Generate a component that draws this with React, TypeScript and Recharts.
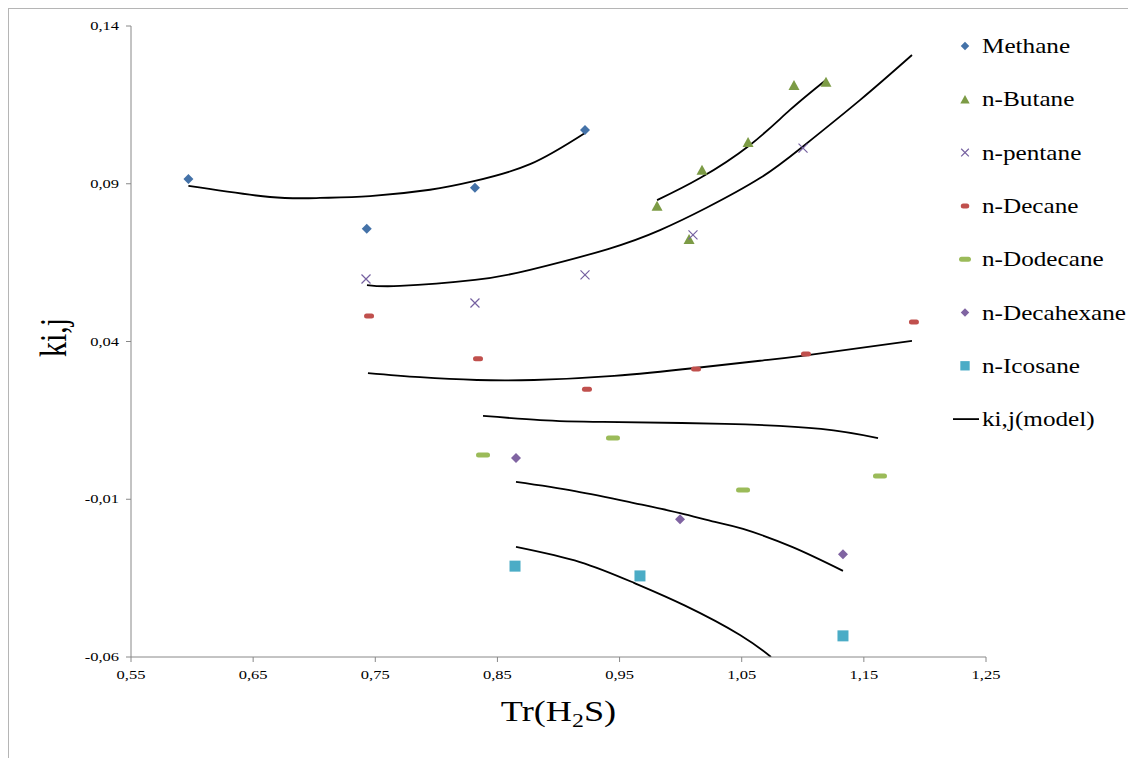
import React from "react";
import { ComposedChart, Line, Scatter, XAxis, YAxis } from "recharts";

// measured points (Tr, kij)
const methane = [
  { x: 0.597, y: 0.0915 },
  { x: 0.743, y: 0.0757 },
  { x: 0.8316, y: 0.0887 },
  { x: 0.9217, y: 0.107 },
];
const butane = [
  { x: 0.9807, y: 0.083 },
  { x: 1.0069, y: 0.0725 },
  { x: 1.0175, y: 0.0944 },
  { x: 1.0552, y: 0.1032 },
  { x: 1.0928, y: 0.1213 },
  { x: 1.119, y: 0.1223 },
];
const pentane = [
  { x: 0.7424, y: 0.0598 },
  { x: 0.8316, y: 0.0522 },
  { x: 0.9217, y: 0.0611 },
  { x: 1.0101, y: 0.0738 },
  { x: 1.1002, y: 0.1013 },
];
const decane = [
  { x: 0.7449, y: 0.0481 },
  { x: 0.8341, y: 0.0345 },
  { x: 0.9233, y: 0.0249 },
  { x: 1.0126, y: 0.0313 },
  { x: 1.1026, y: 0.036 },
  { x: 1.191, y: 0.0462 },
];
const dodecane = [
  { x: 0.8382, y: 0.004 },
  { x: 0.9446, y: 0.0094 },
  { x: 1.0511, y: -0.0071 },
  { x: 1.1632, y: -0.0026 },
];
const decahexane = [
  { x: 0.8652, y: 0.0031 },
  { x: 0.9995, y: -0.0163 },
  { x: 1.1329, y: -0.0274 },
];
const icosane = [
  { x: 0.8644, y: -0.0312 },
  { x: 0.9667, y: -0.0343 },
  { x: 1.1329, y: -0.0533 },
];

// model curves
const methaneModel = [
  { x: 0.597, y: 0.0893 },
  { x: 0.6638, y: 0.0858 },
  { x: 0.7047, y: 0.0855 },
  { x: 0.7457, y: 0.0861 },
  { x: 0.7948, y: 0.0881 },
  { x: 0.8316, y: 0.0909 },
  { x: 0.8767, y: 0.0962 },
  { x: 0.9217, y: 0.1061 },
];
const butaneModel = [
  { x: 0.9807, y: 0.0848 },
  { x: 1.0159, y: 0.0918 },
  { x: 1.0568, y: 0.1023 },
  { x: 1.0895, y: 0.1134 },
  { x: 1.119, y: 0.1229 },
];
const pentaneModel = [
  { x: 0.7432, y: 0.0579 },
  { x: 0.7702, y: 0.0576 },
  { x: 0.8316, y: 0.0595 },
  { x: 0.8767, y: 0.0627 },
  { x: 0.9405, y: 0.0693 },
  { x: 0.9831, y: 0.0753 },
  { x: 1.0208, y: 0.0823 },
  { x: 1.065, y: 0.0918 },
  { x: 1.0994, y: 0.1016 },
  { x: 1.1468, y: 0.1165 },
  { x: 1.1894, y: 0.1308 },
];
const decaneModel = [
  { x: 0.744, y: 0.03 },
  { x: 0.7866, y: 0.0287 },
  { x: 0.8333, y: 0.0278 },
  { x: 0.88, y: 0.0278 },
  { x: 0.9455, y: 0.0291 },
  { x: 1.0118, y: 0.0316 },
  { x: 1.065, y: 0.0339 },
  { x: 1.1026, y: 0.0356 },
  { x: 1.1894, y: 0.0402 },
];
const dodecaneModel = [
  { x: 0.8382, y: 0.0164 },
  { x: 0.8849, y: 0.0151 },
  { x: 0.9364, y: 0.0145 },
  { x: 1.0363, y: 0.0139 },
  { x: 1.1149, y: 0.0123 },
  { x: 1.1616, y: 0.0094 },
];
const decahexaneModel = [
  { x: 0.8652, y: -0.0045 },
  { x: 0.9135, y: -0.0074 },
  { x: 0.9618, y: -0.0112 },
  { x: 0.9995, y: -0.0144 },
  { x: 1.0281, y: -0.0172 },
  { x: 1.0511, y: -0.0194 },
  { x: 1.0912, y: -0.0251 },
  { x: 1.1329, y: -0.0327 },
];
const icosaneModel = [
  { x: 0.8652, y: -0.0251 },
  { x: 0.9176, y: -0.0299 },
  { x: 0.9618, y: -0.0365 },
  { x: 1.0036, y: -0.0437 },
  { x: 1.0486, y: -0.053 },
  { x: 1.074, y: -0.06 },
];

const xTicks = [0.55, 0.65, 0.75, 0.85, 0.95, 1.05, 1.15, 1.25];
const yTicks = [-0.06, -0.01, 0.04, 0.09, 0.14];

const FONT = "Liberation Serif, Times New Roman, serif";
const SX = 1.27; // original figure text is stretched horizontally

type Kind = "diamond" | "triangle" | "cross" | "dash" | "longdash" | "square";

const series: { name: string; data: { x: number; y: number }[]; kind: Kind; color: string }[] = [
  { name: "Methane", data: methane, kind: "diamond", color: "#4472A8" },
  { name: "n-Butane", data: butane, kind: "triangle", color: "#7C9B45" },
  { name: "n-pentane", data: pentane, kind: "cross", color: "#7560A0" },
  { name: "n-Decane", data: decane, kind: "dash", color: "#C0504D" },
  { name: "n-Dodecane", data: dodecane, kind: "longdash", color: "#9BBB59" },
  { name: "n-Decahexane", data: decahexane, kind: "diamond", color: "#8064A2" },
  { name: "n-Icosane", data: icosane, kind: "square", color: "#4BACC6" },
];

const models = [
  methaneModel,
  butaneModel,
  pentaneModel,
  decaneModel,
  dodecaneModel,
  decahexaneModel,
  icosaneModel,
];

function marker(kind: Kind, color: string, cx: number, cy: number, s = 1) {
  switch (kind) {
    case "diamond": {
      const r = 5 * s;
      return <polygon points={`${cx},${cy - r} ${cx + r},${cy} ${cx},${cy + r} ${cx - r},${cy}`} fill={color} />;
    }
    case "triangle": {
      const w = 5.5 * s;
      const h = 10 * s;
      return (
        <polygon
          points={`${cx},${cy - h / 2} ${cx + w},${cy + h / 2} ${cx - w},${cy + h / 2}`}
          fill={color}
        />
      );
    }
    case "cross": {
      const r = 4.5 * s;
      return (
        <path
          d={`M${cx - r},${cy - r}L${cx + r},${cy + r}M${cx - r},${cy + r}L${cx + r},${cy - r}`}
          stroke={color}
          strokeWidth={1.2}
        />
      );
    }
    case "dash":
      return <rect x={cx - 5 * s} y={cy - 2.5} width={10 * s} height={5} rx={2.5} fill={color} />;
    case "longdash":
      return <rect x={cx - 7 * s} y={cy - 2.5} width={14 * s} height={5} rx={2.5} fill={color} />;
    case "square":
      return <rect x={cx - 5.5 * s} y={cy - 5.5 * s} width={11 * s} height={11 * s} fill={color} />;
  }
}

const fmt = (v: number) => v.toFixed(2).replace(".", ",");

function XTick({ x, y, payload }: any) {
  return (
    <text
      transform={`translate(${x},${y + 15}) scale(${SX},1)`}
      textAnchor="middle"
      fontFamily={FONT}
      fontSize={13}
      fill="#000"
    >
      {fmt(payload.value)}
    </text>
  );
}

function YTick({ x, y, payload }: any) {
  return (
    <text
      transform={`translate(${x - 5},${y + 4}) scale(${SX},1)`}
      textAnchor="end"
      fontFamily={FONT}
      fontSize={13}
      fill="#000"
    >
      {fmt(payload.value)}
    </text>
  );
}

function XLabel({ viewBox }: any) {
  const cx = viewBox.x + viewBox.width / 2;
  return (
    <text
      transform={`translate(${cx},${viewBox.y + 64}) scale(1.25,1)`}
      textAnchor="middle"
      fontFamily={FONT}
      fontSize={29}
      fill="#000"
    >
      Tr(H
      <tspan fontSize={19} dy={6}>
        2
      </tspan>
      <tspan dy={-6}>S)</tspan>
    </text>
  );
}

function YLabel({ viewBox }: any) {
  const cy = viewBox.y + viewBox.height / 2;
  return (
    <text
      transform={`translate(57,${cy - 4}) scale(1.25,1) rotate(-90)`}
      textAnchor="middle"
      fontFamily={FONT}
      fontSize={30}
      fill="#000"
    >
      ki,j
    </text>
  );
}

// legend drawn as svg so it uses the same serif text as the axes
function LegendBox() {
  const rows = [...series.map((s) => ({ name: s.name, s })), { name: "ki,j(model)", s: null }];
  return (
    <svg width={186} height={440} style={{ position: "absolute", left: 940, top: 0 }}>
      {rows.map((r, i) => {
        const cy = 37 + 53.3 * i;
        return (
          <g key={r.name}>
            {r.s ? (
              marker(r.s.kind, r.s.color, 16, cy, 0.85)
            ) : (
              <line x1={4} y1={cy} x2={30} y2={cy} stroke="#000" strokeWidth={1.8} />
            )}
            <text
              transform={`translate(33,${cy + 7}) scale(1.2,1)`}
              fontFamily={FONT}
              fontSize={21}
              fill="#000"
            >
              {r.name}
            </text>
          </g>
        );
      })}
    </svg>
  );
}

export default function App() {
  return (
    <div
      style={{
        position: "relative",
        width: 1128,
        height: 750,
        boxSizing: "border-box",
        borderTop: "1px solid #b5b5b5",
        borderLeft: "1px solid #b5b5b5",
        background: "#fff",
      }}
    >
      <ComposedChart width={1127} height={749} margin={{ top: 17, right: 150, bottom: 41, left: 62 }}>
        <XAxis
          type="number"
          dataKey="x"
          domain={[0.55, 1.25]}
          ticks={xTicks}
          allowDataOverflow
          stroke="#888"
          tickSize={5}
          tick={<XTick />}
          height={60}
          label={<XLabel />}
        />
        <YAxis
          type="number"
          dataKey="y"
          domain={[-0.06, 0.14]}
          ticks={yTicks}
          allowDataOverflow
          stroke="#888"
          tickSize={5}
          tick={<YTick />}
          width={60}
          label={<YLabel />}
        />
        {models.map((m, i) => (
          <Line
            key={"m" + i}
            data={m}
            dataKey="y"
            type="natural"
            stroke="#000"
            strokeWidth={1.8}
            dot={false}
            activeDot={false}
            isAnimationActive={false}
          />
        ))}
        {series.map((s) => (
          <Scatter
            key={s.name}
            name={s.name}
            data={s.data}
            dataKey="y"
            isAnimationActive={false}
            shape={(p: any) => marker(s.kind, s.color, p.cx, p.cy)}
          />
        ))}
      </ComposedChart>
      <LegendBox />
    </div>
  );
}
